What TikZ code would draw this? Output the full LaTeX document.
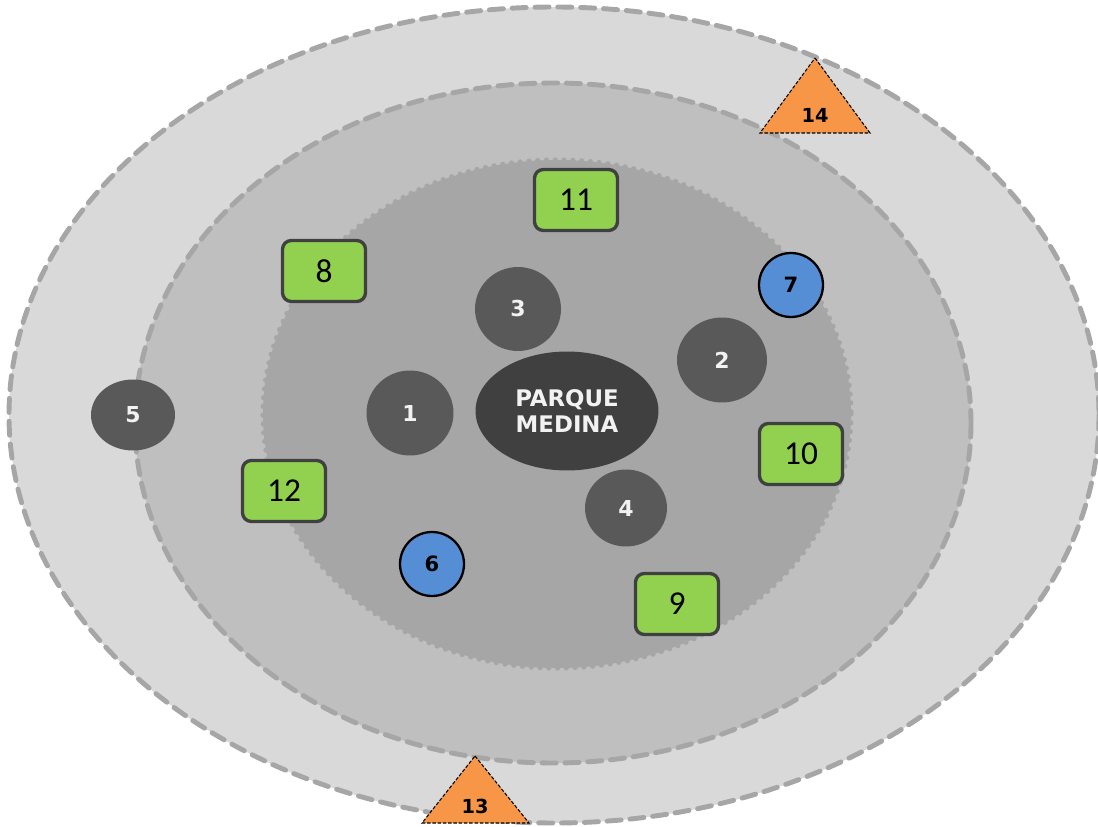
\documentclass[tikz,border=0pt]{standalone}
\usepackage{fontspec}
\setmainfont{DejaVu Sans}
\newfontfamily\sqfont{Carlito}
\usetikzlibrary{shapes.geometric}
\definecolor{ringA}{HTML}{D9D9D9}
\definecolor{ringB}{HTML}{BFBFBF}
\definecolor{ringC}{HTML}{A6A6A6}
\definecolor{dashgray}{HTML}{A6A6A6}
\definecolor{darkspot}{HTML}{595959}
\definecolor{parkfill}{HTML}{404040}
\definecolor{greenbox}{HTML}{92D050}
\definecolor{bluespot}{HTML}{558ED5}
\definecolor{orangetri}{HTML}{F79646}
\tikzset{
  ring/.style={draw=dashgray, line width=2.8pt, dash pattern=on 8pt off 5pt, line cap=round},
  spot/.style={ellipse, fill=darkspot, text=white!95!black, font=\bfseries\fontsize{12.5}{14}\selectfont, inner sep=0pt},
  tree/.style={circle, draw=black, line width=1.3pt, fill=bluespot, minimum size=1.28cm, inner sep=0pt, font=\bfseries\fontsize{12}{14}\selectfont},
  box/.style={draw=parkfill, line width=1.9pt, rounded corners=5pt, fill=greenbox, minimum width=1.66cm, minimum height=1.22cm, inner sep=0pt, font=\sqfont\fontsize{19}{21}\selectfont},
  tri/.style={draw=black, dash pattern=on 2pt off 1pt, line width=0.6pt, fill=orangetri},
  trilabel/.style={font=\bfseries\fontsize{11}{13}\selectfont}
}
\begin{document}
\begin{tikzpicture}[x=0.02cm, y=-0.02cm]
\useasboundingbox (0,0) rectangle (1098,827);
% rings
\begin{scope}
\clip (0,0) rectangle (1098,827);
\fill[ringA] (554,415) ellipse [x radius=545, y radius=408];
\draw[ring] (554,415) ellipse [x radius=545, y radius=408];
\end{scope}
\fill[ringB] (553,423) ellipse [x radius=418, y radius=340];
\draw[ring] (553,423) ellipse [x radius=418, y radius=340];
\fill[ringC] (557,414) ellipse [x radius=294, y radius=254];
\draw[ringC, line width=3pt, dash pattern=on 0pt off 5pt, line cap=round] (557,414) ellipse [x radius=294, y radius=254];
% park and spots
\node[spot, fill=parkfill, minimum width=3.66cm, minimum height=2.38cm, align=center, font=\bfseries\fontsize{13}{15}\selectfont] (parque) at (567,411) {PARQUE\\MEDINA};
\node[spot, minimum width=1.74cm, minimum height=1.7cm] (s1) at (410,413) {1};
\node[spot, minimum width=1.8cm, minimum height=1.7cm] (s2) at (722,360) {2};
\node[spot, minimum width=1.72cm, minimum height=1.68cm] (s3) at (518,309) {3};
\node[spot, minimum width=1.64cm, minimum height=1.54cm] (s4) at (626,508) {4};
\node[spot, minimum width=1.68cm, minimum height=1.42cm] (s5) at (133,415) {5};
\node[tree] (t6) at (432,564) {6};
\node[tree] (t7) at (791,285) {7};
% boxes
\node[box] (b8) at (324,271) {8};
\node[box] (b9) at (677,604) {9};
\node[box] (b10) at (801,454) {10};
\node[box] (b11) at (576,200) {11};
\node[box] (b12) at (284,491) {12};
% triangles
\draw[tri] (815,58) -- (870,133) -- (760,133) -- cycle;
\node[trilabel] (p14) at (815,115) {14};
\draw[tri] (475,756) -- (529,823) -- (422,823) -- cycle;
\node[trilabel] (p13) at (475,806) {13};
\end{tikzpicture}
\end{document}
